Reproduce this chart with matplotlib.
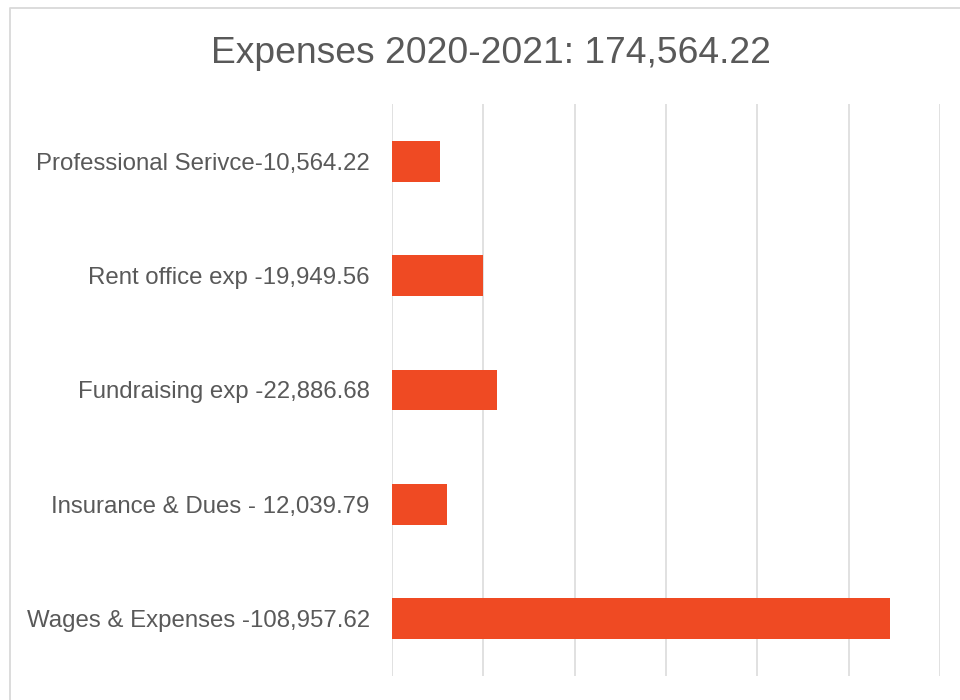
import matplotlib
matplotlib.use("Agg")
import matplotlib.pyplot as plt
from matplotlib.lines import Line2D

categories = [
    "Professional Serivce-10,564.22",
    "Rent office exp -19,949.56",
    "Fundraising exp -22,886.68",
    "Insurance & Dues - 12,039.79",
    "Wages & Expenses -108,957.62",
]
values = [10564.22, 19949.56, 22886.68, 12039.79, 108957.62]
title = "Expenses 2020-2021: 174,564.22"

W, H = 960, 700
plt.rcParams['font.family'] = ['Liberation Sans', 'DejaVu Sans']
fig = plt.figure(figsize=(W / 100, H / 100), dpi=100)
fig.patch.set_facecolor('white')

ax = fig.add_axes([392 / W, 1 - 676 / H, (940 - 392) / W, (676 - 104) / H])
ypos = list(range(len(categories)))
ax.barh(ypos, values, height=0.355, color='#EF4A23', zorder=3)
ax.set_xlim(0, 120000)
ax.set_ylim(len(categories) - 0.5, -0.5)
ax.set_xticks(range(0, 120001, 20000))
ax.xaxis.grid(True, color='#D9D9D9', linewidth=1.1, zorder=0)
ax.tick_params(axis='x', length=0, labelbottom=False)
ax.set_yticks(ypos)
ax.set_yticklabels(categories, fontsize=17.25, color='#595959')
ax.tick_params(axis='y', length=0, pad=16)
for s in ax.spines.values():
    s.set_visible(False)

fig.text(491 / W, 1 - 63 / H, title, ha='center', va='baseline',
         fontsize=26.8, color='#595959')

# chart frame border
fig.add_artist(Line2D([9.5 / W, 9.5 / W, 1.0], [0.0, 1 - 7.5 / H, 1 - 7.5 / H],
                      transform=fig.transFigure, color='#D9D9D9', linewidth=1.3))

fig.savefig('out.png', dpi=100)
